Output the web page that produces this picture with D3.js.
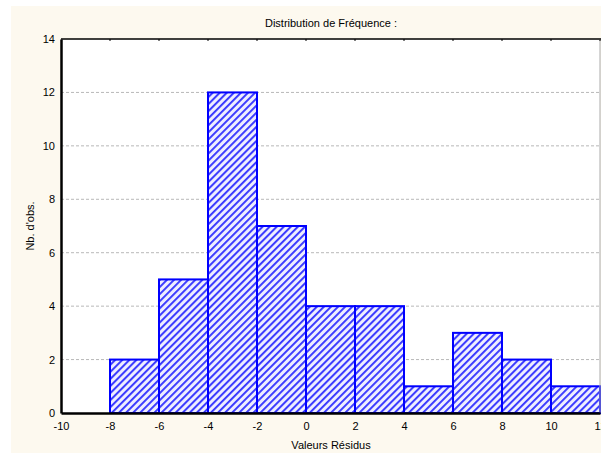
<!DOCTYPE html>
<html>
<head>
<meta charset="utf-8">
<script src="https://cdn.jsdelivr.net/npm/d3@7"></script>
<style>
  body { margin: 0; background: #fff; }
  svg { display: block; font-family: "Liberation Sans", Arial, sans-serif; }
</style>
</head>
<body>
<svg width="601" height="453"></svg>
<script>
// Data
var binStarts = [-10, -8, -6, -4, -2, 0, 2, 4, 6, 8, 10];
var binWidth = 2;
var counts = [0, 2, 5, 12, 7, 4, 4, 1, 3, 2, 1];
var xTicks = [-10, -8, -6, -4, -2, 0, 2, 4, 6, 8, 10, 12];
var yTicks = [0, 2, 4, 6, 8, 10, 12, 14];

var svg = d3.select("svg");

// Sizing
var plotLeft = 61, plotRight = 600, plotTop = 39, plotBottom = 413;

// background panel
svg.append("rect")
	.attr("x", 11).attr("y", 6)
	.attr("width", 601).attr("height", 453)
	.attr("fill", "#fdf9ef");

svg.append("rect")
	.attr("x", plotLeft).attr("y", plotTop)
	.attr("width", plotRight - plotLeft).attr("height", plotBottom - plotTop)
	.attr("fill", "#fff");

var defs = svg.append("defs");
var pat = defs.append("pattern")
	.attr("id", "hatch")
	.attr("patternUnits", "userSpaceOnUse")
	.attr("width", 5).attr("height", 5)
	.attr("patternTransform", "rotate(45)");
pat.append("rect").attr("width", 5).attr("height", 5).attr("fill", "#eeeeff");
pat.append("rect").attr("x", 0).attr("width", 1.9).attr("height", 5).attr("fill", "#3535ff");

var x = d3.scaleLinear().domain([-10, 12]).range([plotLeft, plotRight]);
var y = d3.scaleLinear().domain([0, 14]).range([plotBottom, plotTop]);

// grid
svg.append("g")
	.selectAll("line")
	.data(yTicks.filter((t) => t > 0 && t < 14))
	.join("line")
	.attr("x1", plotLeft).attr("x2", plotRight)
	.attr("y1", (d) => y(d)).attr("y2", (d) => y(d))
	.attr("stroke", "#b8b8b8")
	.attr("stroke-dasharray", "3,2")
	.attr("stroke-width", 1);

// bars
svg.append("g")
	.selectAll("rect")
	.data(counts.map((c, i) => ({ x0: binStarts[i], n: c })).filter((d) => d.n > 0))
	.join("rect")
	.attr("x", (d) => x(d.x0))
	.attr("y", (d) => y(d.n))
	.attr("width", (d) => x(d.x0 + binWidth) - x(d.x0))
	.attr("height", (d) => y(0) - y(d.n))
	.attr("fill", "url(#hatch)")
	.attr("stroke", "#0000ff")
	.attr("stroke-width", 2);

// frame
svg.append("line")
	.attr("x1", plotLeft).attr("x2", plotRight + 1)
	.attr("y1", plotTop).attr("y2", plotTop)
	.attr("stroke", "#000").attr("stroke-width", 1.5);
svg.append("line")
	.attr("x1", plotRight).attr("x2", plotRight)
	.attr("y1", plotTop).attr("y2", plotBottom)
	.attr("stroke", "#aaa").attr("stroke-width", 1);

// top ticks
svg.append("g")
	.selectAll("line")
	.data(xTicks.slice(1))
	.join("line")
	.attr("x1", (d) => x(d)).attr("x2", (d) => x(d))
	.attr("y1", plotTop).attr("y2", plotTop + 2)
	.attr("stroke", "#000");

// axes
var xaxis = d3.axisBottom(x).tickValues(xTicks).tickSize(0).tickPadding(9).tickFormat((d) => String(d));
var gx = svg.append("g").attr("transform", `translate(0,${plotBottom})`).call(xaxis);
gx.select(".domain").attr("stroke", "#000").attr("stroke-width", 2.5);
gx.selectAll("text").attr("font-size", 11).attr("fill", "#000")
	.attr("font-family", "'Liberation Sans', Arial, sans-serif");

var yaxis = d3.axisLeft(y).tickValues(yTicks).tickSize(0).tickPadding(6).tickFormat((d) => String(d));
var gy = svg.append("g").attr("transform", `translate(${plotLeft},0)`).call(yaxis);
gy.select(".domain").attr("stroke", "#000").attr("stroke-width", 2.5);
gy.selectAll("text").attr("font-size", 11).attr("fill", "#000")
	.attr("font-family", "'Liberation Sans', Arial, sans-serif");

// labels
svg.append("text")
	.attr("x", 331).attr("y", 27)
	.attr("text-anchor", "middle")
	.attr("font-size", 11)
	.text("Distribution de Fréquence :");

svg.append("text")
	.attr("x", 331).attr("y", 449)
	.attr("text-anchor", "middle")
	.attr("font-size", 11)
	.text("Valeurs Résidus");

svg.append("text")
	.attr("transform", "translate(34,226) rotate(-90)")
	.attr("text-anchor", "middle")
	.attr("font-size", 11)
	.text("Nb. d'obs.");
</script>
</body>
</html>
